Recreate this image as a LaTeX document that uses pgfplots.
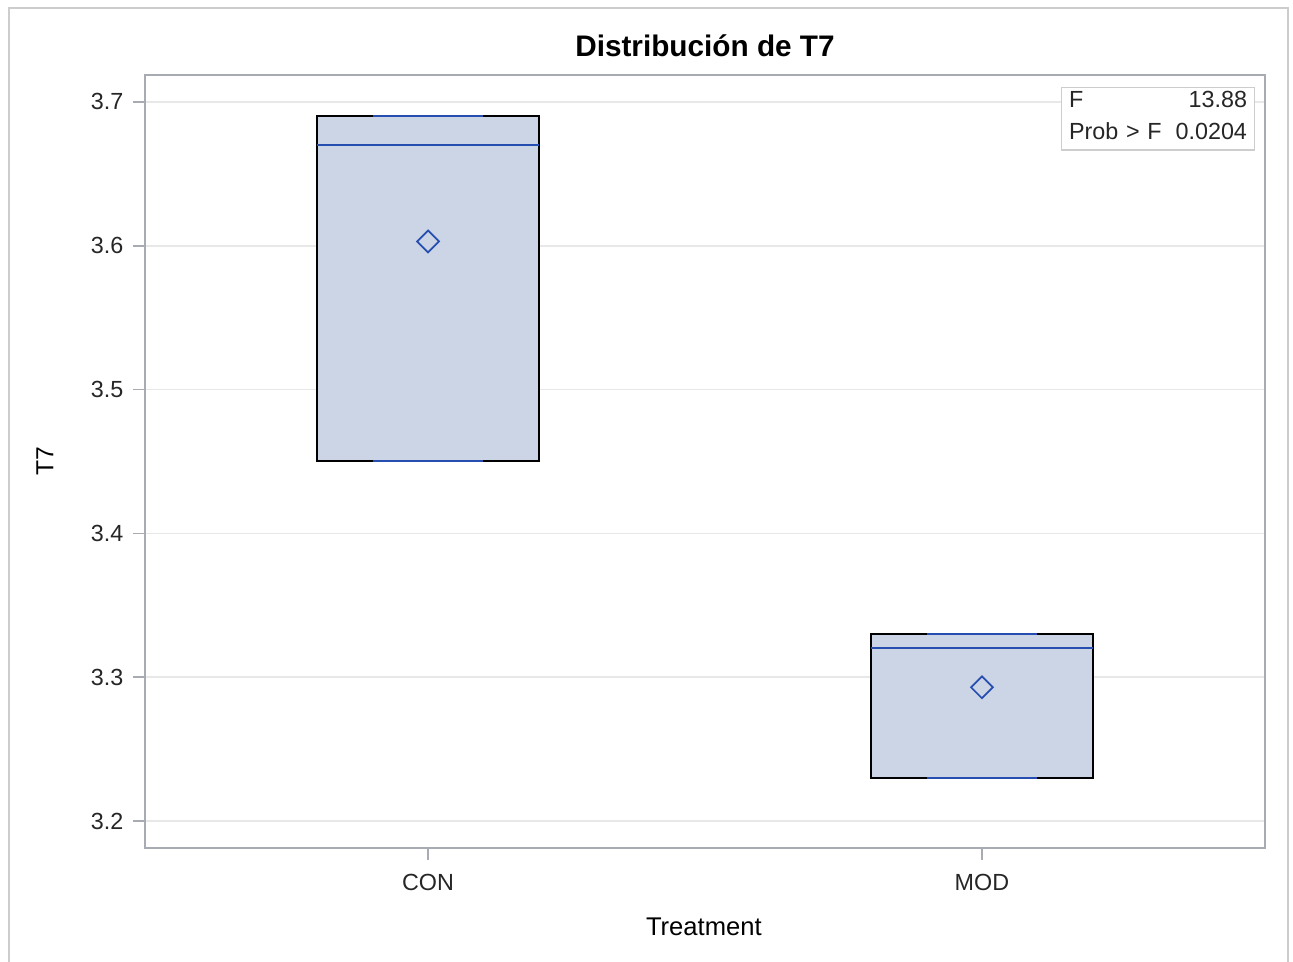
\documentclass[border=0pt]{standalone}
\usepackage{fontspec}
\setmainfont{Liberation Sans}
\usepackage{pgfplots}
\pgfplotsset{compat=1.18}

\definecolor{boxfill}{RGB}{203,213,229}
\definecolor{boxblue}{RGB}{38,78,176}
\definecolor{axisgray}{RGB}{168,172,178}
\definecolor{gridgray}{RGB}{232,232,232}
\definecolor{framegray}{RGB}{205,205,205}
\definecolor{insetgray}{RGB}{205,205,205}

\begin{document}
\begin{tikzpicture}
% page extent
\path[use as bounding box] (-108.75pt,-85.5pt) rectangle (861pt,636pt);
% outer frame of the graph
\draw[framegray, line width=1.3pt] (-102pt,-86pt) -- (-102pt,630pt) -- (857.25pt,630pt) -- (857.25pt,-86pt);

\begin{axis}[
  at={(0,0)}, anchor=south west,
  scale only axis,
  width=840pt, height=579.75pt,
  xmin=-0.511, xmax=1.511,
  ymin=3.18125, ymax=3.71875,
  xtick={0,1}, xticklabels={CON,MOD},
  ytick={3.2,3.3,3.4,3.5,3.6,3.7},
  tick pos=left, tick align=outside,
  major tick length=9pt,
  every tick/.style={axisgray, line width=1.2pt},
  axis line style={axisgray, line width=1.5pt},
  ymajorgrids,
  major grid style={gridgray, line width=1.2pt},
  /pgf/number format/assume math mode=true,
  yticklabel style={/pgf/number format/.cd, fixed, fixed zerofill, precision=1, /tikz/.cd, xshift=-3.75pt},
  xticklabel style={yshift=-7.5pt},
  ticklabel style={font=\fontsize{17.5}{21}\selectfont, text=black!85},
  title={Distribución de T7},
  title style={font=\fontsize{22.3}{26}\bfseries\selectfont, at={(0.5,1)}, anchor=base, yshift=7.5pt},
  xlabel={Treatment},
  xlabel style={font=\fontsize{19.2}{22}\selectfont, at={(axis description cs:0.499,-0.1138)}, anchor=base},
  ylabel={T7},
  ylabel style={font=\fontsize{18.5}{22}\selectfont, at={(axis description cs:-0.0893,0.5)}, anchor=center},
]
% CON
\addplot[draw=black, fill=boxfill, line width=1.5pt] coordinates {(-0.2,3.45) (0.2,3.45) (0.2,3.69) (-0.2,3.69)} -- cycle;
\addplot[boxblue, line width=1.5pt] coordinates {(-0.2,3.67) (0.2,3.67)};
\addplot[boxblue, line width=1.5pt] coordinates {(-0.1,3.69) (0.1,3.69)};
\addplot[boxblue, line width=1.5pt] coordinates {(-0.1,3.45) (0.1,3.45)};
% MOD
\addplot[draw=black, fill=boxfill, line width=1.5pt] coordinates {(0.8,3.23) (1.2,3.23) (1.2,3.33) (0.8,3.33)} -- cycle;
\addplot[boxblue, line width=1.5pt] coordinates {(0.8,3.32) (1.2,3.32)};
\addplot[boxblue, line width=1.5pt] coordinates {(0.9,3.33) (1.1,3.33)};
\addplot[boxblue, line width=1.5pt] coordinates {(0.9,3.23) (1.1,3.23)};
% means
\addplot[only marks, mark=square, mark size=5.8pt,
  mark options={rotate=45, draw=boxblue, fill=boxfill, line width=1.3pt}]
  coordinates {(0,3.603) (1,3.293)};
% F test inset
\node[draw=insetgray, line width=1pt, fill=white, anchor=north east, inner xsep=5.5pt, inner ysep=3pt,
  font=\fontsize{17.5}{24}\selectfont, text=black!85, text width=133.5pt, text depth=28.5pt, align=left]
  at (rel axis cs:1,1) [xshift=-7.5pt, yshift=-9pt]
  {F\hfill 13.88\\Prob > F\hfill 0.0204};
\end{axis}
\end{tikzpicture}
\end{document}
